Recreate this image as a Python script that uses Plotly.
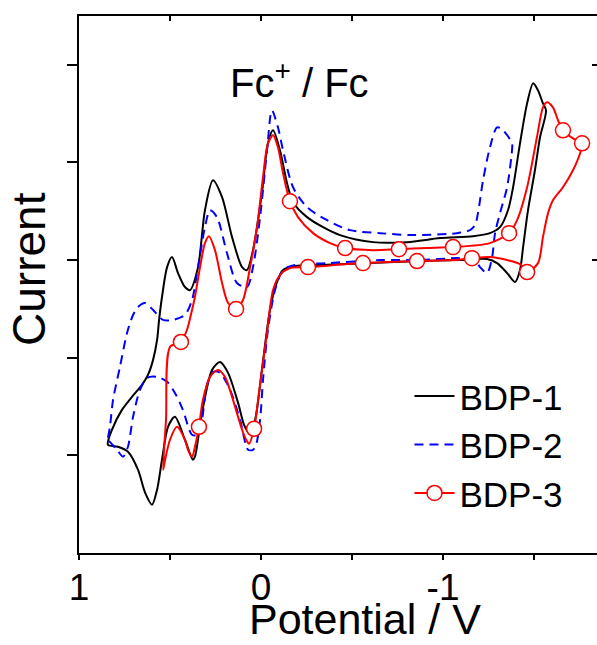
import plotly.graph_objects as go

# ---------------- data (potential in V, current in arbitrary units) ----------------
bdp1_E = [0.841, 0.819, 0.764, 0.709, 0.654, 0.621, 0.593, 0.571, 0.560, 0.544, 0.516, 0.489,
          0.456, 0.418, 0.390, 0.346, 0.308, 0.264, 0.214, 0.159, 0.104, 0.077, 0.044, -0.005,
          -0.038, -0.066, -0.104, -0.143, -0.176, -0.253, -0.341, -0.434, -0.615, -0.802,
          -0.984, -1.165, -1.258, -1.313, -1.357, -1.385, -1.423, -1.462, -1.495, -1.522,
          -1.549, -1.566,
          -1.533, -1.505, -1.467, -1.440, -1.423, -1.396, -1.352, -1.297, -1.242, -1.093,
          -0.874, -0.599, -0.324, -0.187, -0.121, -0.082, -0.049, -0.005, 0.027, 0.049, 0.066,
          0.093, 0.126, 0.181, 0.225, 0.269, 0.324, 0.363, 0.374, 0.418, 0.473, 0.511, 0.544,
          0.571, 0.599, 0.637, 0.676, 0.731, 0.786, 0.841]
bdp1_I = [-1.892, -1.738, -1.534, -1.401, -1.278, -1.176, -1.022, -0.818, -0.613, -0.378, -0.072,
          0.031, -0.133, -0.276, -0.307, -0.072, 0.511, 0.818, 0.644, 0.235, -0.072, -0.102,
          0.102, 0.685, 1.196, 1.329, 1.125, 0.787, 0.593, 0.440, 0.337, 0.256, 0.184, 0.184,
          0.225, 0.245, 0.276, 0.337, 0.511, 0.746, 1.196, 1.605, 1.810, 1.738, 1.605, 1.534,
          1.258, 0.920, 0.511, 0.133, -0.102, -0.225, -0.133, -0.031, 0.010, 0.000, -0.010,
          -0.031, -0.051, -0.061, -0.102, -0.256, -0.511, -1.125, -1.585, -1.738, -1.769,
          -1.687, -1.462, -1.155, -1.043, -1.125, -1.564, -2.014, -2.045, -1.840, -1.605,
          -1.708, -2.045, -2.352, -2.505, -2.382, -2.147, -1.963, -1.912, -1.892]

bdp2_E = [0.841, 0.830, 0.813, 0.775, 0.736, 0.703, 0.676, 0.637, 0.593, 0.538, 0.484, 0.418,
          0.379, 0.346, 0.308, 0.280, 0.242, 0.187, 0.132, 0.077, 0.044, 0.005, -0.033, -0.060,
          -0.093, -0.121, -0.176, -0.253, -0.363, -0.489, -0.654, -0.835, -1.077, -1.148,
          -1.176, -1.192, -1.220, -1.258, -1.297, -1.330, -1.379,
          -1.379, -1.352, -1.313, -1.286, -1.269, -1.242, -1.203, -1.176, -1.093, -0.874,
          -0.654, -0.363, -0.187, -0.121, -0.077, -0.038, -0.011, 0.005, 0.027, 0.044, 0.071,
          0.115, 0.170, 0.225, 0.264, 0.297, 0.324, 0.346, 0.379, 0.429, 0.473, 0.516, 0.571,
          0.626, 0.665, 0.703, 0.731, 0.758, 0.791, 0.841]
bdp2_I = [-1.820, -1.708, -1.431, -1.094, -0.746, -0.562, -0.481, -0.440, -0.511, -0.613, -0.613,
          -0.562, -0.409, -0.072, 0.337, 0.511, 0.440, 0.072, -0.235, -0.276, -0.072, 0.440,
          1.125, 1.534, 1.360, 1.125, 0.746, 0.542, 0.409, 0.307, 0.276, 0.256, 0.276, 0.307,
          0.358, 0.481, 0.818, 1.155, 1.360, 1.329, 1.196,
          1.125, 0.746, 0.481, 0.276, 0.020, -0.133, -0.072, 0.000, 0.020, 0.000, 0.000,
          -0.031, -0.051, -0.102, -0.307, -0.716, -1.227, -1.636, -1.892, -1.943, -1.943,
          -1.636, -1.329, -1.155, -1.145, -1.278, -1.636, -1.789, -1.789, -1.534, -1.360,
          -1.247, -1.196, -1.207, -1.329, -1.605, -1.912, -2.014, -1.943, -1.840]

bdp3_E = [0.538, 0.522, 0.500, 0.440, 0.407, 0.379, 0.363, 0.335, 0.308, 0.286, 0.253, 0.214,
          0.181, 0.137, 0.099, 0.060, 0.022, -0.011, -0.038, -0.066, -0.093, -0.121, -0.159,
          -0.203, -0.286, -0.379, -0.462, -0.615, -0.758, -0.912, -1.055, -1.258, -1.363,
          -1.407, -1.462, -1.516, -1.549, -1.571, -1.604, -1.632, -1.659, -1.714, -1.764,
          -1.753, -1.714, -1.659, -1.604, -1.577, -1.549, -1.522, -1.462, -1.423, -1.352,
          -1.258, -1.159, -1.055, -0.857, -0.560, -0.258, -0.159, -0.104, -0.066, -0.033,
          -0.005, 0.016, 0.038, 0.066, 0.082, 0.104, 0.159, 0.198, 0.236, 0.280, 0.319, 0.341,
          0.363, 0.379, 0.401, 0.418, 0.462, 0.500, 0.527, 0.538]
bdp3_I = [-2.147, -1.636, -0.890, -0.838, -0.716, -0.511, -0.378, -0.072, 0.174, 0.245, 0.102,
          -0.235, -0.440, -0.501, -0.409, -0.072, 0.337, 0.849, 1.196, 1.278, 1.155, 0.890,
          0.603, 0.440, 0.276, 0.174, 0.123, 0.102, 0.112, 0.123, 0.133, 0.174, 0.276, 0.409,
          0.746, 1.258, 1.564, 1.616, 1.564, 1.431, 1.329, 1.247, 1.196,
          1.094, 0.920, 0.746, 0.613, 0.481, 0.235, -0.031, -0.123, -0.041, 0.000, 0.031,
          0.020, 0.000, -0.010, -0.031, -0.072, -0.082, -0.153, -0.307, -0.746, -1.125,
          -1.431, -1.728, -1.881, -1.840, -1.738, -1.401, -1.196, -1.125, -1.196, -1.431,
          -1.708, -1.912, -2.014, -1.943, -1.840, -1.708, -1.840, -2.045, -2.147]

# symbol positions of the BDP-3 curve
bdp3_mark_E = [0.440, 0.137, -0.159, -0.462, -0.758, -1.055, -1.363, -1.659, -1.764,
               -1.462, -1.159, -0.857, -0.560, -0.258, 0.038, 0.341]
bdp3_mark_I = [-0.838, -0.501, 0.603, 0.123, 0.112, 0.133, 0.276, 1.329, 1.196,
               -0.123, 0.020, -0.010, -0.031, -0.072, -1.728, -1.708]

x_range = [1.0, -1.846]
y_range = [-3.0, 2.5]
x_ticks = [1, 0, -1]
x_ticktext = ["1", "0", "-1"]
y_ticks = [-2, -1, 0, 1, 2]

FONT = "Liberation Sans, Arial, sans-serif"

fig = go.Figure()
fig.add_trace(go.Scatter(x=bdp1_E, y=bdp1_I, mode="lines", name="BDP-1",
                         line=dict(color="black", width=2, shape="spline", smoothing=0.8)))
fig.add_trace(go.Scatter(x=bdp2_E, y=bdp2_I, mode="lines", name="BDP-2",
                         line=dict(color="#0000ff", width=2, dash="9px,6px", shape="spline",
                                   smoothing=0.8)))
fig.add_trace(go.Scatter(x=bdp3_E, y=bdp3_I, mode="lines", name="BDP-3", showlegend=False,
                         legendgroup="b3",
                         line=dict(color="#ff0000", width=2, shape="spline", smoothing=0.8)))
fig.add_trace(go.Scatter(x=bdp3_mark_E, y=bdp3_mark_I, mode="markers", showlegend=False,
                         legendgroup="b3",
                         marker=dict(symbol="circle", size=15, color="white",
                                     line=dict(color="#ff0000", width=1.5))))
fig.add_trace(go.Scatter(x=[None], y=[None], mode="lines+markers", name="BDP-3",
                         legendgroup="b3",
                         line=dict(color="#ff0000", width=2),
                         marker=dict(symbol="circle", size=15, color="white",
                                     line=dict(color="#ff0000", width=1.5))))
# helper trace for the mirrored top/right axes
fig.add_trace(go.Scatter(x=[None], y=[None], xaxis="x2", yaxis="y2", showlegend=False,
                         hoverinfo="skip"))

fig.add_annotation(x=-0.214, y=1.84, xref="x", yref="y", text="Fc<sup>+</sup> / Fc",
                   showarrow=False, font=dict(family=FONT, size=40, color="black"))
fig.add_annotation(x=0.552, y=-0.171, xref="paper", yref="paper", text="Potential / V",
                   showarrow=False, font=dict(family=FONT, size=43, color="black"),
                   xanchor="center", yanchor="bottom")
fig.add_annotation(x=-0.0965, y=0.529, xref="paper", yref="paper", text="Current",
                   textangle=-90, showarrow=False,
                   font=dict(family=FONT, size=46, color="black"),
                   xanchor="center", yanchor="middle")

fig.update_layout(
    width=597, height=645,
    margin=dict(l=79, r=0, t=16, b=92),
    paper_bgcolor="white", plot_bgcolor="white",
    showlegend=True,
    legend=dict(x=0.638, y=0.347, xanchor="left", yanchor="top",
                font=dict(family=FONT, size=35, color="black"),
                bgcolor="rgba(0,0,0,0)", itemwidth=40, tracegroupgap=0),
    xaxis=dict(range=x_range, tickvals=x_ticks, ticktext=x_ticktext, ticks="outside",
               ticklen=5, tickwidth=1.5, tickcolor="black", showline=True, linecolor="black",
               linewidth=2, showgrid=False, zeroline=False, ticklabelstandoff=-4,
               minor=dict(tick0=0, dtick=0.5, ticks="outside", ticklen=5, tickwidth=1.5,
                          tickcolor="black", showgrid=False),
               tickfont=dict(family=FONT, size=37, color="black")),
    yaxis=dict(range=y_range, tickvals=y_ticks, ticks="outside", ticklen=10, tickwidth=1.5,
               tickcolor="black", showticklabels=False, showline=True, linecolor="black",
               linewidth=2, showgrid=False, zeroline=False),
    xaxis2=dict(range=x_range, overlaying="x", side="top", anchor="y2",
                tickvals=[0.5, 0, -0.5, -1, -1.5], ticks="inside", ticklen=5, tickwidth=1.5,
                tickcolor="black", showticklabels=False, showline=True, linecolor="black",
                linewidth=2, showgrid=False, zeroline=False),
    yaxis2=dict(range=y_range, overlaying="y", side="right", anchor="x2",
                tickvals=[0, 2], ticks="inside", ticklen=5, tickwidth=1.5,
                tickcolor="black", showticklabels=False, showline=False, showgrid=False,
                zeroline=False),
)

fig.write_html("out.html")
